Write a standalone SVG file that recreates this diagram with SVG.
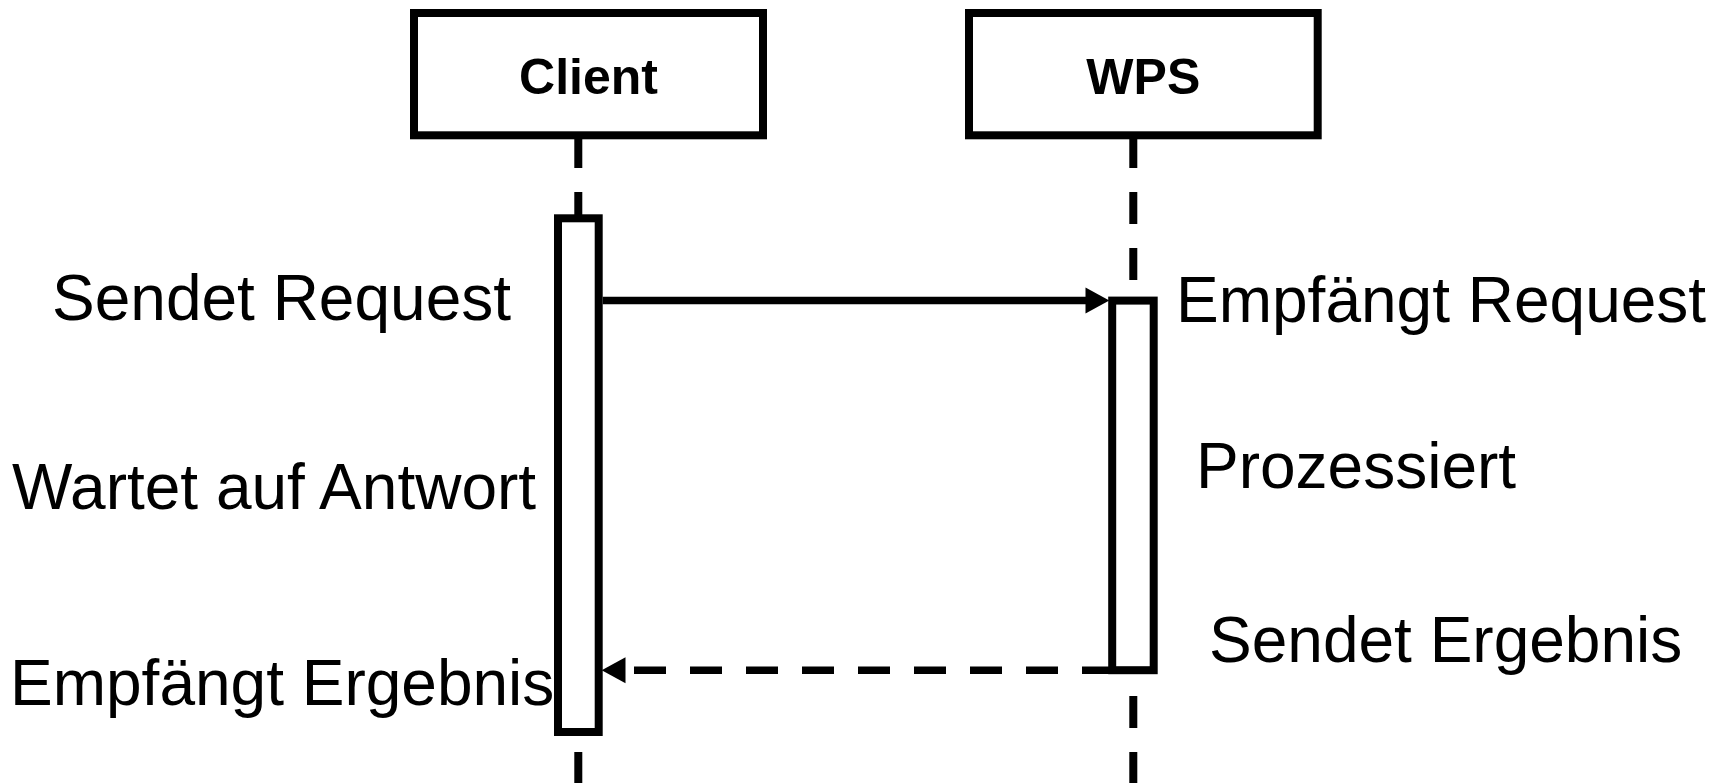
<svg xmlns="http://www.w3.org/2000/svg" width="1722" height="783" viewBox="0 0 1722 783">
  <style>
    .box { fill: #ffffff; stroke: #000000; stroke-width: 8; }
    .life { fill: none; stroke: #000000; stroke-width: 8; stroke-dasharray: 32 24; }
    .msg { fill: none; stroke: #000000; stroke-width: 7.5; }
    .ret { fill: none; stroke: #000000; stroke-width: 7.5; stroke-dasharray: 32 24; }
    .arrowhead { fill: #000000; stroke: none; }
    .head { font-family: "Liberation Sans", Arial, sans-serif; font-weight: bold; font-size: 50px; fill: #000000; text-anchor: middle; }
    .lbl { font-family: "Liberation Sans", Arial, sans-serif; font-size: 64px; fill: #000000; }
  </style>
  <rect width="1722" height="783" fill="#ffffff"/>

  <g id="lifelines">
    <line class="life" x1="578.3" y1="136" x2="578.3" y2="783"/>
    <line class="life" x1="1133.3" y1="136" x2="1133.3" y2="783"/>
  </g>

  <g id="client">
    <rect class="box" x="414" y="13" width="349" height="122.3"/>
    <text class="head" x="588.5" y="94.3">Client</text>
  </g>
  <g id="wps">
    <rect class="box" x="969" y="13" width="348.7" height="122.3"/>
    <text class="head" x="1143.3" y="94.3">WPS</text>
  </g>

  <g id="client-activation">
    <rect class="box" x="558" y="218.3" width="40.7" height="513.7"/>
  </g>
  <g id="wps-activation">
    <rect class="box" x="1112.2" y="300.6" width="41.5" height="369.6"/>
  </g>

  <g id="connectors">
    <line class="msg" x1="602.7" y1="300.5" x2="1088" y2="300.5"/>
    <path class="arrowhead" d="M1109.3,300.5 L1085.5,287.5 L1085.5,313.5 Z"/>
    <line class="ret" x1="1114" y1="670.3" x2="623" y2="670.3"/>
    <path class="arrowhead" d="M601.7,670.3 L625.5,657.3 L625.5,683.3 Z"/>
  </g>

  <g id="labels">
    <text class="lbl" x="52" y="320">Sendet Request</text>
    <text class="lbl" x="12" y="508.5">Wartet auf Antwort</text>
    <text class="lbl" x="10" y="705">Empfängt Ergebnis</text>
    <text class="lbl" x="1176" y="321.7">Empfängt Request</text>
    <text class="lbl" x="1196" y="488">Prozessiert</text>
    <text class="lbl" x="1209" y="661.7">Sendet Ergebnis</text>
  </g>
</svg>
